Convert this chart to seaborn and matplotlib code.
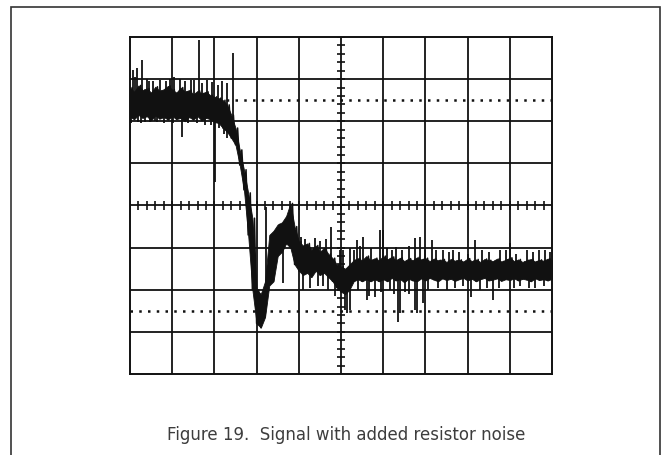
"""
Oscilloscope capture: signal with added resistor noise.
Grid is 10 x 8 divisions; trace drawn as a noise band plus spikes.
"""
import numpy as np
import pandas as pd
import matplotlib
matplotlib.use("Agg")
import matplotlib.pyplot as plt
import seaborn as sns
from matplotlib.patches import Rectangle

# trace sampled every 0.1 division: bottom and top of the noise band
trace_x = np.round(np.arange(0, 10.01, 0.1), 1)
trace_lo = [
    6.10, 6.05, 6.15, 6.08, 6.12, 6.02, 6.14, 6.06, 6.10, 6.04,
    6.12, 6.05, 6.08, 6.00, 6.10, 6.04, 6.12, 6.02, 6.08, 6.05,
    5.98, 5.96, 5.84, 5.75, 5.60, 5.44, 4.96, 4.37, 3.30, 2.00,
    1.20, 1.10, 1.35, 2.10, 2.20, 2.80, 2.90, 3.10, 3.00, 2.60,
    2.45, 2.35, 2.40, 2.30, 2.45, 2.35, 2.40, 2.30, 2.20, 2.05,
    1.95, 1.90, 2.00, 2.20, 2.25, 2.20, 2.25, 2.20, 2.25, 2.20,
    2.25, 2.20, 2.28, 2.22, 2.25, 2.18, 2.26, 2.22, 2.20, 2.27,
    2.22, 2.28, 2.24, 2.20, 2.27, 2.23, 2.26, 2.21, 2.25, 2.28,
    2.22, 2.26, 2.20, 2.25, 2.28, 2.22, 2.24, 2.27, 2.21, 2.25,
    2.23, 2.27, 2.22, 2.26, 2.24, 2.20, 2.27, 2.23, 2.25, 2.22, 2.26,
]
trace_hi = [
    6.80, 6.70, 6.85, 6.74, 6.78, 6.68, 6.82, 6.72, 6.76, 6.84,
    6.75, 6.68, 6.80, 6.70, 6.74, 6.64, 6.72, 6.66, 6.70, 6.62,
    6.58, 6.55, 6.50, 6.39, 6.15, 5.84, 5.32, 4.85, 4.30, 3.70,
    2.00, 1.90, 2.20, 3.30, 3.40, 3.55, 3.60, 3.75, 4.05, 3.50,
    3.15, 3.05, 3.10, 2.95, 3.05, 2.90, 3.00, 2.85, 2.75, 2.60,
    2.55, 2.50, 2.60, 2.70, 2.75, 2.70, 2.80, 2.70, 2.75, 2.70,
    2.80, 2.72, 2.78, 2.70, 2.76, 2.68, 2.74, 2.70, 2.77, 2.72,
    2.75, 2.68, 2.74, 2.70, 2.72, 2.66, 2.73, 2.69, 2.71, 2.67,
    2.74, 2.68, 2.72, 2.66, 2.73, 2.70, 2.68, 2.74, 2.67, 2.71,
    2.76, 2.68, 2.72, 2.66, 2.70, 2.73, 2.67, 2.71, 2.69, 2.74, 2.70,
]

# upward noise spikes: position and tip (divisions)
spike_up_x = [
    0.07, 0.12, 0.17, 0.28, 0.40, 0.45, 0.55, 0.71, 0.85, 0.95, 1.05, 1.18,
    1.30, 1.45, 1.52, 1.64, 1.70, 1.83, 1.95, 2.08, 2.19, 2.30, 2.43,
    3.22,
    4.05, 4.15, 4.38, 4.50, 4.65, 4.76, 4.98, 5.05, 5.21, 5.30, 5.38, 5.45,
    5.52, 5.70, 5.92, 6.00, 6.10, 6.20, 6.30, 6.45, 6.60, 6.75, 6.87, 7.00,
    7.16, 7.25, 7.42, 7.55, 7.65, 7.80, 8.00, 8.18, 8.35, 8.50, 8.77, 8.90,
    9.00, 9.15, 9.40, 9.55, 9.70, 9.83, 9.95,
]
spike_up_y = [
    7.22, 7.05, 7.27, 7.46, 7.00, 6.95, 6.95, 6.98, 6.95, 7.00, 7.05, 7.00,
    6.95, 6.98, 6.98, 7.93, 6.90, 6.98, 6.92, 6.85, 6.95, 6.90, 7.62,
    3.97,
    3.25, 3.20, 3.23, 3.15, 3.20, 3.49, 2.95, 2.95, 3.00, 2.95, 3.18, 3.05,
    3.25, 3.00, 3.42, 3.42, 3.00, 2.95, 3.02, 2.95, 3.05, 3.23, 3.25, 2.95,
    3.18, 2.95, 2.95, 2.90, 2.95, 2.90, 2.85, 3.18, 2.95, 2.90, 2.95, 2.95,
    3.11, 2.85, 2.95, 2.90, 2.95, 2.95, 2.90,
]
# downward noise spikes: position and tip (divisions)
spike_dn_x = [
    0.03, 0.19, 0.25, 0.36, 0.48, 0.59, 0.64, 0.80, 1.02, 1.23, 1.38, 1.58,
    1.78, 1.92, 2.02, 2.12, 2.22, 2.30,
    3.63,
    4.10, 4.27, 4.45, 4.57, 4.70, 4.85, 5.09, 5.14, 5.21, 5.40, 5.62, 5.66,
    5.81, 5.95, 6.15, 6.25, 6.35, 6.40, 6.52, 6.60, 6.75, 6.80, 6.94, 7.05,
    7.30, 7.50, 7.70, 7.89, 8.08, 8.30, 8.45, 8.60, 8.75, 9.10, 9.24, 9.45,
    9.60, 9.80,
]
spike_dn_y = [
    5.95, 5.99, 5.97, 5.99, 5.98, 6.00, 5.98, 5.97, 5.95, 5.63, 5.96, 5.95,
    5.90, 5.90, 4.56, 5.85, 5.70, 5.60,
    2.16,
    2.00, 2.05, 2.10, 2.10, 2.00, 1.85, 1.52, 1.45, 1.52, 2.00, 1.76, 1.85,
    1.83, 1.95, 2.00, 1.90, 1.24, 1.45, 1.95, 1.90, 1.52, 1.45, 1.69, 2.00,
    2.05, 2.00, 2.05, 2.10, 1.83, 2.00, 2.05, 1.76, 2.05, 2.05, 2.10, 2.05,
    2.05, 2.10,
]

CAPTION = "Figure 19.  Signal with added resistor noise"
W, H = 671, 455
INK = "#111111"

sns.set_style("white")
fig = plt.figure(figsize=(W / 100, H / 100), dpi=100)

# outer frame (open at the bottom edge of the crop)
fig.add_artist(Rectangle((11 / W, -0.05), (660 - 11) / W, 1 - 7 / H + 0.05,
                         transform=fig.transFigure, fill=False, lw=1.2, ec="#333333"))

ax = fig.add_axes([130 / W, 1 - 374 / H, 422 / W, 337 / H])
ax.set_xlim(0, 10)
ax.set_ylim(0, 8)
ax.set_xticks([])
ax.set_yticks([])
for s in ax.spines.values():
    s.set_linewidth(1.4)
    s.set_color(INK)

# graticule
ax.vlines(range(1, 10), 0, 8, color=INK, lw=1.3, zorder=1)
ax.hlines(range(1, 8), 0, 10, color=INK, lw=1.3, zorder=1)
ax.hlines(np.arange(0, 8.01, 0.2), 4.9, 5.1, color=INK, lw=1.2, zorder=1)
ax.vlines(np.arange(0, 10.01, 0.2), 3.9, 4.1, color=INK, lw=1.2, zorder=1)
for yy in (6.5, 1.5):
    ax.axhline(yy, color=INK, lw=1.8, ls=(0, (1, 2.5)), zorder=1)

# trace: filled band plus a zigzag between band bottom and top
df = pd.DataFrame({"t": trace_x, "lo": trace_lo, "hi": trace_hi})
ax.fill_between(df["t"], df["lo"], df["hi"], color=INK, lw=0.6, zorder=3)
zz = pd.DataFrame({
    "t": np.column_stack([df["t"], df["t"] + 0.05]).ravel(),
    "v": np.column_stack([df["lo"], df["hi"]]).ravel(),
})
sns.lineplot(data=zz, x="t", y="v", ax=ax, sort=False, estimator=None,
             color=INK, lw=1.1, zorder=3)

mid = (df["lo"] + df["hi"]) / 2
ax.vlines(spike_up_x, np.interp(spike_up_x, df["t"], mid), spike_up_y,
          color=INK, lw=1.3, zorder=3)
ax.vlines(spike_dn_x, spike_dn_y, np.interp(spike_dn_x, df["t"], mid),
          color=INK, lw=1.3, zorder=3)
ax.set_xlim(0, 10)
ax.set_ylim(0, 8)
ax.set_xlabel("")
ax.set_ylabel("")

fig.text(346 / W, 1 - 440 / H, CAPTION, ha="center", va="baseline",
         fontsize=12, color="#3d3d3d")

fig.savefig("out.png", dpi=100)
